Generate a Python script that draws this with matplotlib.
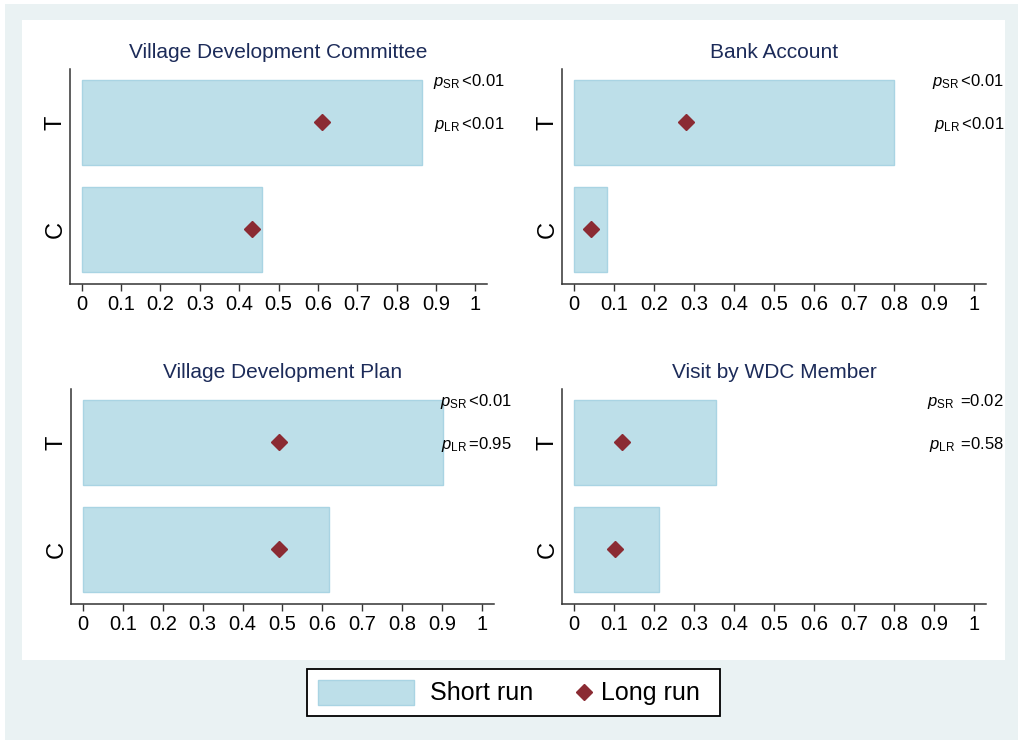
import matplotlib
matplotlib.use('Agg')
import matplotlib.pyplot as plt
from matplotlib.patches import Rectangle
from matplotlib.lines import Line2D

plt.rcParams['font.family'] = ['Liberation Sans', 'DejaVu Sans']
plt.rcParams['mathtext.fontset'] = 'custom'
plt.rcParams['mathtext.rm'] = 'Liberation Sans'
plt.rcParams['mathtext.it'] = 'Liberation Sans:italic'

# data
groups = ['C', 'T']
titles = ['Village Development Committee', 'Bank Account',
          'Village Development Plan', 'Visit by WDC Member']
short_run = [[0.459, 0.865], [0.082, 0.80], [0.616, 0.903], [0.213, 0.354]]
long_run = [[0.433, 0.611], [0.043, 0.28], [0.491, 0.491], [0.102, 0.119]]
p_sr = ['<0.01', '<0.01', '<0.01', ' =0.02']
p_lr = ['<0.01', '<0.01', '=0.95', ' =0.58']
xticks = [0, 0.1, 0.2, 0.3, 0.4, 0.5, 0.6, 0.7, 0.8, 0.9, 1]
xticklabels = ['0', '0.1', '0.2', '0.3', '0.4', '0.5', '0.6', '0.7', '0.8', '0.9', '1']

bar_col = '#bddfe9'
bar_edge = '#a9d4e3'
dot_col = '#8b2b33'
title_col = '#1c2b59'
bg_col = '#eaf2f3'

W, H = 1018, 740
fig = plt.figure(figsize=(W / 100, H / 100), dpi=100)
fig.patch.set_facecolor('white')

# outer tinted region and inner white plot region (pixel boxes)
fig.add_artist(Rectangle((5 / W, 0), 1 - 5 / W, 1 - 4 / H, transform=fig.transFigure,
                         facecolor=bg_col, edgecolor='none', zorder=-2))
fig.add_artist(Rectangle((22 / W, 1 - 660 / H), (1005 - 22) / W, (660 - 20) / H,
                         transform=fig.transFigure, facecolor='white', edgecolor='none', zorder=-1))

# axes boxes in pixels: left, right, top, bottom
boxes = [(70, 487, 69, 284), (562, 986, 69, 284),
         (71, 494, 389, 604), (562, 986, 389, 604)]

for i, (l, r, t, b) in enumerate(boxes):
    ax = fig.add_axes([l / W, 1 - b / H, (r - l) / W, (b - t) / H])
    ax.set_facecolor('none')
    ypos = range(len(groups))
    ax.barh(ypos, short_run[i], height=0.8, color=bar_col, edgecolor=bar_edge, linewidth=1)
    ax.plot(long_run[i], ypos, linestyle='none', marker='D', markersize=8.5, color=dot_col)

    ax.set_xlim(-0.03, 1.03)
    ax.set_ylim(-0.51, 1.5)
    ax.set_xticks(xticks)
    ax.set_xticklabels(xticklabels, fontsize=14.5)
    ax.set_yticks(list(ypos))
    ax.set_yticklabels(groups, fontsize=17, rotation=90, va='center')
    ax.tick_params(axis='x', length=5, width=1, color='#333333', pad=3)
    ax.tick_params(axis='y', length=0, pad=2.5)
    for s in ['top', 'right']:
        ax.spines[s].set_visible(False)
    for s in ['left', 'bottom']:
        ax.spines[s].set_color('#333333')
        ax.spines[s].set_linewidth(1.1)

    ax.text(0.5, 1.076, titles[i], transform=ax.transAxes, ha='center', va='center',
            fontsize=15, color=title_col)
    ax.text(1.075, 1.38, r'$p_{\mathrm{SR}}\,$' + p_sr[i], ha='right', va='center',
            fontsize=12, clip_on=False)
    ax.text(1.075, 0.98, r'$p_{\mathrm{LR}}\,$' + p_lr[i], ha='right', va='center',
            fontsize=12, clip_on=False)

# legend, drawn in pixel coordinates of the figure
fig.add_artist(Rectangle((307 / W, 1 - 716 / H), (720 - 307) / W, (716 - 669) / H,
                         transform=fig.transFigure, facecolor='white', edgecolor='black',
                         linewidth=1.3))
fig.add_artist(Rectangle((318 / W, 1 - 705 / H), (414 - 318) / W, (705 - 680) / H,
                         transform=fig.transFigure, facecolor=bar_col, edgecolor=bar_edge,
                         linewidth=1))
fig.text(430 / W, 1 - 693 / H, 'Short run', fontsize=18, va='center', ha='left')
fig.add_artist(Line2D([584 / W], [1 - 692 / H], transform=fig.transFigure, marker='D',
                      markersize=8.5, color=dot_col, linestyle='none'))
fig.text(601 / W, 1 - 693 / H, 'Long run', fontsize=18, va='center', ha='left')

fig.savefig('out.png', dpi=100)
